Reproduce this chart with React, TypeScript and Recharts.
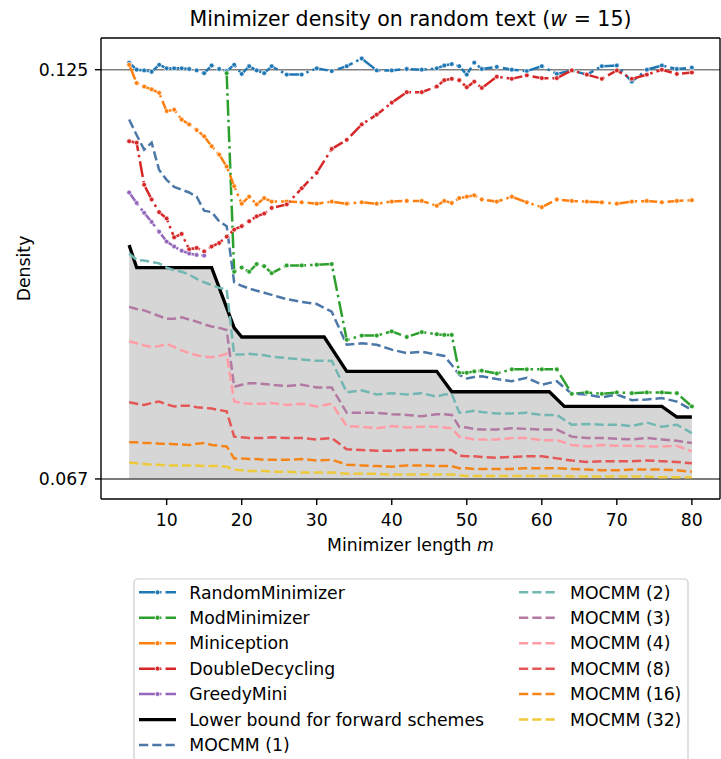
import { ComposedChart, Line, Area, XAxis, YAxis, ReferenceLine } from 'recharts';

const FONT = '"DejaVu Sans", Verdana, sans-serif';

// minimizer lengths m that were sampled
const M = [
  5, 6, 7, 8, 9, 10, 11, 12, 13, 14, 15, 16, 17, 18, 19, 20, 21, 22, 23, 24,
  26, 28, 30, 32, 34, 36, 38, 40, 42, 44, 46,
  47, 48, 49, 50, 51, 52,
  54, 56, 58, 60, 62, 64, 66, 68, 70, 72, 74, 76, 78, 80,
];

const randomMinimizer = [
  0.1260, 0.1250, 0.1249, 0.1247, 0.1257, 0.1252, 0.1252, 0.1252, 0.1251, 0.1249, 0.1245, 0.1256, 0.1251, 0.1248, 0.1257, 0.1244, 0.1255, 0.1249, 0.1245, 0.1255,
  0.1243, 0.1243, 0.1252, 0.1248, 0.1255, 0.1266, 0.1249, 0.1249, 0.1251, 0.1250, 0.1252,
  0.1256, 0.1258, 0.1255, 0.1243, 0.1260, 0.1251,
  0.1254, 0.1250, 0.1248, 0.1255, 0.1244, 0.1249, 0.1243, 0.1255, 0.1256, 0.1233, 0.1250, 0.1256, 0.1251, 0.1253,
];

const modMinimizer = [
  null, null, null, null, null, null, null, null, null, null, null, null, null, 0.1245, 0.0962, 0.0968, 0.0962, 0.0973, 0.0970, 0.0960,
  0.0971, 0.0971, 0.0972, 0.0973, 0.0865, 0.0871, 0.0871, 0.0877, 0.0869, 0.0876, 0.0873,
  0.0872, 0.0872, 0.0818, 0.0818, 0.0820, 0.0821,
  0.0817, 0.0823, 0.0823, 0.0823, 0.0823, 0.0788, 0.0790, 0.0788, 0.0790, 0.0789, 0.0790, 0.0790, 0.0789, 0.0770,
];

const miniception = [
  0.1257, 0.1231, 0.1226, 0.1222, 0.1217, 0.1191, 0.1193, 0.1179, 0.1172, 0.1164, 0.1155, 0.1141, 0.1129, 0.1112, 0.1084, 0.1059, 0.1069, 0.1058, 0.1067, 0.1062,
  0.1062, 0.1061, 0.1059, 0.1062, 0.1059, 0.1061, 0.1059, 0.1062, 0.1063, 0.1063, 0.1056,
  0.1063, 0.1060, 0.1067, 0.1069, 0.1071, 0.1065,
  0.1062, 0.1069, 0.1061, 0.1054, 0.1065, 0.1063, 0.1062, 0.1061, 0.1059, 0.1062, 0.1063, 0.1061, 0.1063, 0.1064,
];

const doubleDecycling = [
  0.1148, 0.1146, 0.1086, 0.1065, 0.1047, 0.1038, 0.1011, 0.1016, 0.0994, 0.0996, 0.0991, 0.0998, 0.1003, 0.1012, 0.1022, 0.1027, 0.1034, 0.1041, 0.1045, 0.1053,
  0.1058, 0.1081, 0.1103, 0.1137, 0.1150, 0.1172, 0.1186, 0.1203, 0.1218, 0.1218, 0.1226,
  0.1235, 0.1237, 0.1235, 0.1225, 0.1233, 0.1224,
  0.1240, 0.1237, 0.1242, 0.1238, 0.1238, 0.1249, 0.1243, 0.1237, 0.1249, 0.1237, 0.1243, 0.1250, 0.1244, 0.1246,
];

const greedyMini = [
  0.1075, 0.1060, 0.1046, 0.1033, 0.1019, 0.1005, 0.0998, 0.0992, 0.0988, 0.0986, 0.0985,
];

const mocmm1 = [
  0.1179, 0.1157, 0.1136, 0.1146, 0.1107, 0.1093, 0.1083, 0.1079, 0.1075, 0.1069, 0.1049, 0.1047, 0.1034, 0.1027, 0.0947, 0.0942, 0.0938, 0.0935, 0.0932, 0.0929,
  0.0923, 0.0919, 0.0916, 0.0905, 0.0858, 0.0860, 0.0858, 0.0851, 0.0846, 0.0848, 0.0844,
  0.0842, 0.0829, 0.0815, 0.0810, 0.0812, 0.0813,
  0.0809, 0.0806, 0.0811, 0.0801, 0.0806, 0.0788, 0.0787, 0.0783, 0.0787, 0.0779, 0.0780, 0.0782, 0.0777, 0.0765,
];

const mocmm2 = [
  0.0988, 0.0979, 0.0978, 0.0976, 0.0974, 0.0968, 0.0964, 0.0962, 0.0958, 0.0952, 0.0947, 0.0943, 0.0939, 0.0937, 0.0844, 0.0844, 0.0845, 0.0844, 0.0843, 0.0841,
  0.0839, 0.0837, 0.0835, 0.0835, 0.0790, 0.0793, 0.0787, 0.0789, 0.0787, 0.0789, 0.0784,
  0.0787, 0.0788, 0.0761, 0.0762, 0.0764, 0.0762,
  0.0760, 0.0760, 0.0761, 0.0758, 0.0758, 0.0744, 0.0745, 0.0744, 0.0744, 0.0742, 0.0747, 0.0741, 0.0744, 0.0732,
];

const mocmm3 = [
  0.0912, 0.0909, 0.0907, 0.0903, 0.0899, 0.0895, 0.0895, 0.0897, 0.0894, 0.0891, 0.0887, 0.0884, 0.0882, 0.0879, 0.0798, 0.0801, 0.0803, 0.0803, 0.0802, 0.0801,
  0.0799, 0.0801, 0.0797, 0.0797, 0.0761, 0.0761, 0.0761, 0.0759, 0.0758, 0.0756, 0.0759,
  0.0759, 0.0758, 0.0741, 0.0740, 0.0738, 0.0737,
  0.0737, 0.0739, 0.0738, 0.0737, 0.0737, 0.0727, 0.0725, 0.0725, 0.0724, 0.0723, 0.0725, 0.0723, 0.0721, 0.0718,
];

const mocmm4 = [
  0.0863, 0.0860, 0.0857, 0.0855, 0.0856, 0.0859, 0.0855, 0.0850, 0.0846, 0.0843, 0.0841, 0.0840, 0.0842, 0.0845, 0.0777, 0.0775, 0.0774, 0.0774, 0.0774, 0.0775,
  0.0772, 0.0774, 0.0770, 0.0774, 0.0742, 0.0741, 0.0739, 0.0742, 0.0740, 0.0741, 0.0741,
  0.0740, 0.0739, 0.0727, 0.0725, 0.0723, 0.0723,
  0.0723, 0.0725, 0.0725, 0.0722, 0.0722, 0.0715, 0.0713, 0.0715, 0.0714, 0.0714, 0.0713, 0.0713, 0.0714, 0.0706,
];

const mocmm8 = [
  0.0776, 0.0774, 0.0772, 0.0775, 0.0777, 0.0773, 0.0770, 0.0771, 0.0771, 0.0769, 0.0768, 0.0767, 0.0765, 0.0763, 0.0727, 0.0726, 0.0725, 0.0725, 0.0725, 0.0726,
  0.0725, 0.0725, 0.0723, 0.0725, 0.0709, 0.0708, 0.0707, 0.0707, 0.0708, 0.0708, 0.0708,
  0.0708, 0.0708, 0.0700, 0.0699, 0.0699, 0.0698,
  0.0697, 0.0698, 0.0699, 0.0699, 0.0696, 0.0693, 0.0691, 0.0692, 0.0692, 0.0692, 0.0693, 0.0692, 0.0691, 0.0689,
];

const mocmm16 = [
  0.0719, 0.0719, 0.0718, 0.0718, 0.0717, 0.0717, 0.0716, 0.0716, 0.0715, 0.0717, 0.0718, 0.0715, 0.0714, 0.0713, 0.0696, 0.0696, 0.0695, 0.0695, 0.0694, 0.0694,
  0.0694, 0.0695, 0.0693, 0.0694, 0.0687, 0.0686, 0.0685, 0.0684, 0.0686, 0.0686, 0.0685,
  0.0685, 0.0685, 0.0682, 0.0682, 0.0681, 0.0681,
  0.0681, 0.0681, 0.0682, 0.0682, 0.0682, 0.0681, 0.0680, 0.0679, 0.0679, 0.0680, 0.0680, 0.0680, 0.0679, 0.0677,
];

const mocmm32 = [
  0.0690, 0.0689, 0.0688, 0.0687, 0.0687, 0.0686, 0.0686, 0.0686, 0.0686, 0.0686, 0.0685, 0.0685, 0.0685, 0.0684, 0.0680, 0.0679, 0.0678, 0.0678, 0.0678, 0.0677,
  0.0677, 0.0676, 0.0676, 0.0676, 0.0674, 0.0674, 0.0674, 0.0673, 0.0673, 0.0673, 0.0673,
  0.0673, 0.0673, 0.0672, 0.0671, 0.0671, 0.0671,
  0.0671, 0.0671, 0.0671, 0.0671, 0.0671, 0.0670, 0.0670, 0.0670, 0.0670, 0.0670, 0.0670, 0.0669, 0.0669, 0.0669,
];

// lower bound polyline, as drawn
const lowerBoundM = [5, 6, 16, 19, 20, 31, 34, 46, 48, 61, 63, 76, 78, 80];
const lowerBound = [0.1, 0.0968, 0.0968, 0.0882, 0.0869, 0.0869, 0.082, 0.082, 0.0791, 0.0791, 0.077, 0.077, 0.0755, 0.0755];

const xTicks = [10, 20, 30, 40, 50, 60, 70, 80];
const yTicks = [0.125, 1 / 15];
const xDomain = [1.25, 83.75];
const yDomain = [0.06381, 0.12952];

const DASHDOT = '16 4 2.5 4';
const DASHED = '9.25 4';

const toPoints = (xs: number[], ys: (number | null)[]) =>
  xs.map((m, i) => ({ m, v: ys[i] })).filter((p) => p.v != null);

type Series = { name: string; values: (number | null)[]; color: string; kind: 'dashdot' | 'dashed' | 'solid' };

const series: Series[] = [
  { name: 'RandomMinimizer', values: randomMinimizer, color: '#1f77b4', kind: 'dashdot' },
  { name: 'ModMinimizer', values: modMinimizer, color: '#2ca02c', kind: 'dashdot' },
  { name: 'Miniception', values: miniception, color: '#ff7f0e', kind: 'dashdot' },
  { name: 'DoubleDecycling', values: doubleDecycling, color: '#d62728', kind: 'dashdot' },
  { name: 'GreedyMini', values: greedyMini, color: '#9467bd', kind: 'dashdot' },
  { name: 'Lower bound for forward schemes', values: lowerBound, color: '#000000', kind: 'solid' },
  { name: 'MOCMM (1)', values: mocmm1, color: '#4c78a8', kind: 'dashed' },
  { name: 'MOCMM (2)', values: mocmm2, color: '#72b7b2', kind: 'dashed' },
  { name: 'MOCMM (3)', values: mocmm3, color: '#b279a2', kind: 'dashed' },
  { name: 'MOCMM (4)', values: mocmm4, color: '#ff9da6', kind: 'dashed' },
  { name: 'MOCMM (8)', values: mocmm8, color: '#e45756', kind: 'dashed' },
  { name: 'MOCMM (16)', values: mocmm16, color: '#f58518', kind: 'dashed' },
  { name: 'MOCMM (32)', values: mocmm32, color: '#eeca3b', kind: 'dashed' },
];

function LegendSample({ s, x, y }: { s: Series; x: number; y: number }) {
  const w = 37;
  if (s.kind === 'solid') {
    return <line x1={x} x2={x + w} y1={y} y2={y} stroke={s.color} strokeWidth={3.3} />;
  }
  return (
    <g>
      <line x1={x} x2={x + w} y1={y} y2={y} stroke={s.color} strokeWidth={2.5}
        strokeDasharray={s.kind === 'dashdot' ? DASHDOT : DASHED} />
      {s.kind === 'dashdot' && <circle cx={x + w / 2} cy={y} r={2.4} fill={s.color} stroke="#fff" strokeWidth={0.7} />}
    </g>
  );
}

export default function App() {
  const col1 = series.slice(0, 7);
  const col2 = series.slice(7);
  const rowY = (i: number) => 592.3 + i * 25.45;

  return (
    <div style={{ position: 'absolute', left: 0, top: 0, width: 721, height: 759, overflow: 'hidden', background: '#fff' }}>
      <ComposedChart width={721} height={560} margin={{ top: 38, right: 1, left: 0, bottom: 0 }}>
        <XAxis dataKey="m" type="number" domain={xDomain} allowDataOverflow ticks={xTicks} interval={0}
          height={61} tickSize={6} tickMargin={8.5}
          tick={{ fill: '#000', fontSize: 17.3, fontFamily: FONT }}
          axisLine={{ stroke: '#000', strokeWidth: 1.4 }} tickLine={{ stroke: '#000', strokeWidth: 1.4 }} />
        <YAxis type="number" domain={yDomain} allowDataOverflow ticks={yTicks} interval={0}
          tickFormatter={(v: number) => v.toFixed(3)} width={101} tickSize={6} tickMargin={6.7}
          tick={{ fill: '#000', fontSize: 17.3, fontFamily: FONT }}
          axisLine={{ stroke: '#000', strokeWidth: 1.4 }} tickLine={{ stroke: '#000', strokeWidth: 1.4 }} />

        <Area data={toPoints(lowerBoundM, lowerBound)} dataKey="v" type="linear" baseValue={1 / 15}
          fill="#d6d6d6" fillOpacity={1} stroke="none" isAnimationActive={false} />

        <ReferenceLine y={0.125} stroke="#808080" strokeWidth={1.4} />
        <ReferenceLine y={1 / 15} stroke="#505050" strokeWidth={1.4} />
        <ReferenceLine y={yDomain[1]} stroke="#000" strokeWidth={1.4} />
        <ReferenceLine x={xDomain[1]} stroke="#000" strokeWidth={1.4} />

        {series.map((s) => (
          <Line key={s.name} name={s.name}
            data={s.kind === 'solid' ? toPoints(lowerBoundM, s.values) : toPoints(M, s.values)}
            dataKey="v" type="linear" stroke={s.color}
            strokeWidth={s.kind === 'solid' ? 3.3 : 2.5}
            strokeDasharray={s.kind === 'dashdot' ? DASHDOT : s.kind === 'dashed' ? DASHED : undefined}
            dot={s.kind === 'dashdot' ? { r: 2.4, fill: s.color, stroke: '#fff', strokeWidth: 0.7, strokeDasharray: 'none' } : false}
            activeDot={false} isAnimationActive={false} />
        ))}
      </ComposedChart>

      <svg width={721} height={759} style={{ position: 'absolute', left: 0, top: 0, pointerEvents: 'none' }}
        fontFamily={FONT}>
        <text x={410.5} y={26} fontSize={20.5} textAnchor="middle" fill="#000">
          Minimizer density on random text (<tspan fontStyle="italic">w</tspan> = 15)
        </text>
        <text x={410.5} y={551} fontSize={17.3} textAnchor="middle" fill="#000">
          Minimizer length <tspan fontStyle="italic">m</tspan>
        </text>
        <text transform="translate(29.5, 268.5) rotate(-90)" fontSize={17.3} textAnchor="middle" fill="#000">
          Density
        </text>

        <rect x={134} y={579} width={554} height={190} rx={4} fill="#fff" fillOpacity={0.8} stroke="#cccccc" strokeWidth={1.2} />
        {col1.map((s, i) => (
          <g key={s.name}>
            <LegendSample s={s} x={139} y={rowY(i)} />
            <text x={189.3} y={rowY(i) + 6.2} fontSize={17.3} fill="#000">{s.name}</text>
          </g>
        ))}
        {col2.map((s, i) => (
          <g key={s.name}>
            <LegendSample s={s} x={519} y={rowY(i)} />
            <text x={570} y={rowY(i) + 6.2} fontSize={17.3} fill="#000">{s.name}</text>
          </g>
        ))}
      </svg>
    </div>
  );
}
